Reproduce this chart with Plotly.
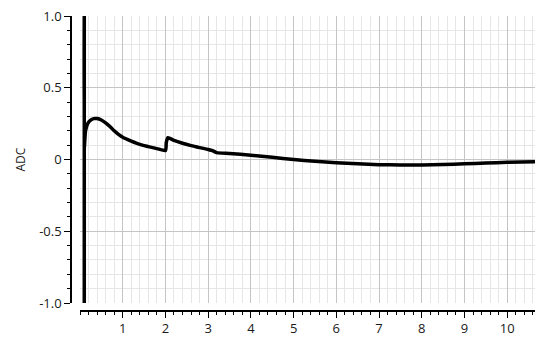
import plotly.graph_objects as go

# signal trace (time, ADC)
t = [0.1, 0.1, 0.1, 0.13, 0.18, 0.25, 0.32, 0.4, 0.5, 0.6, 0.7, 0.8, 0.9, 1.0,
     1.2, 1.4, 1.6, 1.8, 2.0, 2.02, 2.06, 2.2, 2.4, 2.6, 2.8, 3.0, 3.1, 3.2,
     3.5, 4.0, 4.5, 5.0, 5.5, 6.0, 6.5, 7.0, 7.5, 8.0, 8.5, 9.0, 9.5, 10.0, 10.65]
adc = [-1.0, 1.0, 0.08, 0.2, 0.25, 0.275, 0.285, 0.285, 0.275, 0.255, 0.23, 0.2, 0.175, 0.155,
       0.128, 0.105, 0.09, 0.076, 0.063, 0.12, 0.152, 0.133, 0.113, 0.097, 0.083, 0.07, 0.062, 0.048,
       0.042, 0.03, 0.015, 0.0, -0.012, -0.022, -0.03, -0.036, -0.038, -0.038, -0.035, -0.03,
       -0.025, -0.02, -0.015]

x_ticks = [1, 2, 3, 4, 5, 6, 7, 8, 9, 10]
y_ticks = [-1.0, -0.5, 0, 0.5, 1.0]
y_labels = ["-1.0", "-0.5", "0", "0.5", "1.0"]

fig = go.Figure()
fig.add_trace(go.Scatter(x=t, y=adc, mode="lines", line_shape="spline",
                         line=dict(color="black", width=3.5, smoothing=0.6),
                         showlegend=False))

font = dict(family="Segoe UI, Open Sans, DejaVu Sans, sans-serif", size=13, color="#1a1a1a")

# page body has an 8px default margin, so the figure is a bit smaller than the window
fig.update_layout(
    width=542, height=341,
    margin=dict(l=63, r=15, t=8, b=38, autoexpand=False),
    paper_bgcolor="white", plot_bgcolor="white",
    font=font,
    xaxis=dict(
        domain=[9 / 464, 1], anchor="free", position=0, automargin=False,
        range=[0, 10.65], tickvals=x_ticks, ticklabeloverflow="allow",
        showline=True, linecolor="black", linewidth=1.5,
        ticks="outside", ticklen=6, tickcolor="black",
        showgrid=True, gridcolor="#c4c4c4", gridwidth=1, zeroline=False,
        minor=dict(dtick=0.2, ticks="outside", ticklen=3, tickcolor="black",
                   showgrid=True, gridcolor="#e6e6e6"),
    ),
    yaxis=dict(
        domain=[8 / 295, 1], anchor="free", position=0, automargin=False,
        range=[-1, 1], tickvals=y_ticks, ticktext=y_labels, ticklabeloverflow="allow",
        showline=True, linecolor="black", linewidth=1.5,
        ticks="outside", ticklen=6, tickcolor="black",
        showgrid=True, gridcolor="#c4c4c4", gridwidth=1, zeroline=False,
        minor=dict(dtick=0.1, ticks="outside", ticklen=3, tickcolor="black",
                   showgrid=True, gridcolor="#e6e6e6"),
    ),
    annotations=[dict(text="ADC", textangle=-90, showarrow=False,
                      xref="paper", yref="y", x=-51 / 464, y=0,
                      xanchor="center", yanchor="middle", font=dict(size=12))],
)

fig.write_html("out.html")
